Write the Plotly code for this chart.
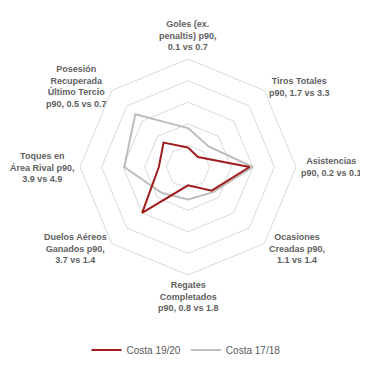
import math
import plotly.graph_objects as go

categories = [
    "Goles (ex.<br>penaltis) p90,<br>0.1 vs 0.7",
    "Tiros Totales<br>p90, 1.7 vs 3.3",
    "Asistencias<br>p90, 0.2 vs 0.1",
    "Ocasiones<br>Creadas p90,<br>1.1 vs 1.4",
    "Regates<br>Completados<br>p90, 0.8 vs 1.8",
    "Duelos Aéreos<br>Ganados p90,<br>3.7 vs 1.4",
    "Toques en<br>Área Rival p90,<br>3.9 vs 4.9",
    "Posesión<br>Recuperada<br>Último Tercio<br>p90, 0.5 vs 0.7",
]
costa_1920 = [0.18, 0.13, 0.57, 0.31, 0.17, 0.60, 0.27, 0.32]
costa_1718 = [0.36, 0.27, 0.60, 0.33, 0.30, 0.34, 0.59, 0.69]
series_names = ["Costa 19/20", "Costa 17/18"]
series_colors = ["#A01C1C", "#BDBDBD"]

FONT = "Liberation Sans, Arial, sans-serif"
fig = go.Figure()
for name, vals, col in [(series_names[1], costa_1718, series_colors[1]),
                        (series_names[0], costa_1920, series_colors[0])]:
    fig.add_trace(go.Scatterpolar(
        r=vals + vals[:1],
        theta=categories + categories[:1],
        mode="lines",
        name=name,
        line=dict(color=col, width=2),
        hoverinfo="skip",
    ))

W, H = 368, 367
OFF = 8  # page body margin
cx, cy, R = 188 - OFF, 167 - OFF, 108
n = len(categories)

annotations = []
for i, lab in enumerate(categories):
    ang = math.radians(90 - 360 * i / n)
    c, s = math.cos(ang), math.sin(ang)
    px = cx + R * c
    py = cy - R * s
    if abs(c) < 0.1:
        xa = "center"
        ya = "bottom" if s > 0 else "top"
        xs, ys = 0, (5 if s > 0 else -3)
    else:
        xa = "left" if c > 0 else "right"
        ya = "middle"
        xs = 3 if c > 0 else -3
        ys = 4 if s > 0.1 else (-5 if s < -0.1 else 0)
    annotations.append(dict(
        x=px / W, y=1 - py / H, xref="paper", yref="paper",
        text="<b>" + lab + "</b>", showarrow=False,
        xanchor=xa, yanchor=ya, xshift=xs, yshift=ys, align="center",
        font=dict(size=9, color="#5F5F5F", family=FONT),
    ))

fig.update_layout(
    width=W, height=H,
    margin=dict(l=0, r=0, t=0, b=0, autoexpand=False),
    paper_bgcolor="white",
    plot_bgcolor="white",
    font=dict(family=FONT, color="#595959"),
    polar=dict(
        domain=dict(x=[(cx - R) / W, (cx + R) / W], y=[1 - (cy + R) / H, 1 - (cy - R) / H]),
        gridshape="linear",
        bgcolor="white",
        radialaxis=dict(range=[0, 1], tickvals=[0.2, 0.4, 0.6, 0.8, 1.0], showticklabels=False,
                        ticks="", showline=False, gridcolor="#D9D9D9", gridwidth=1),
        angularaxis=dict(rotation=90, direction="clockwise", showgrid=False,
                         showticklabels=False,
                         showline=True, linecolor="#D9D9D9", linewidth=1, ticks=""),
    ),
    annotations=annotations,
    legend=dict(orientation="h", x=(186 - OFF) / W, xanchor="center", y=1 - (350 - OFF) / H,
                yanchor="middle", traceorder="reversed",
                font=dict(size=10, color="#595959", family=FONT), itemwidth=30),
)
fig.write_html("out.html")
